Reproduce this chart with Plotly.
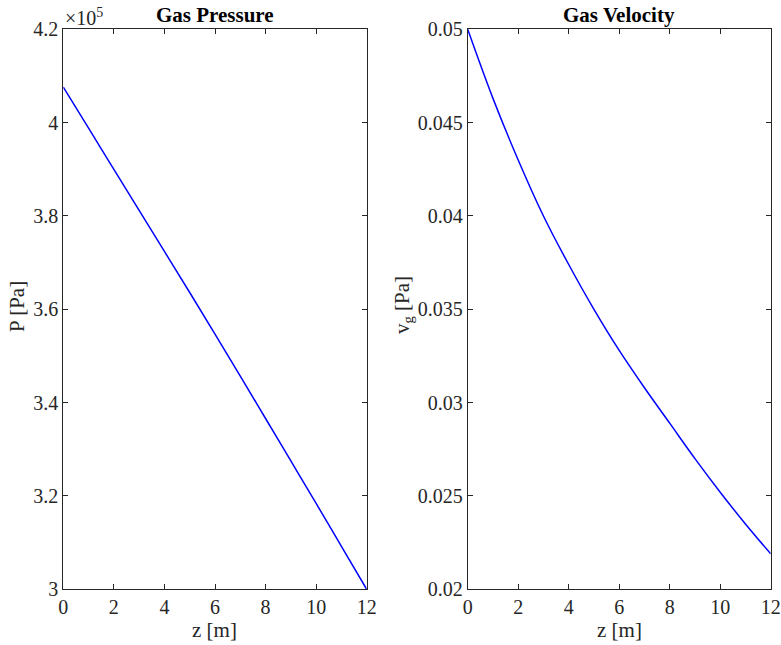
import plotly.graph_objects as go

# ---- data ----
z = [0, 1, 2, 3, 4, 5, 6, 7, 8, 9, 10, 11, 12]
pressure_pa = [407600, 398800, 390000, 381200, 372400, 363600, 354700,
               345700, 336600, 327500, 318400, 309200, 300000]
velocity = [0.0500, 0.0463, 0.0430, 0.0400, 0.0374, 0.0350, 0.0328,
            0.0308, 0.0289, 0.0270, 0.0252, 0.0235, 0.0219]

x_ticks = [0, 2, 4, 6, 8, 10, 12]
p_tickvals = [300000, 320000, 340000, 360000, 380000, 400000, 420000]
p_ticktext = ["3", "3.2", "3.4", "3.6", "3.8", "4", "4.2"]
v_tickvals = [0.02, 0.025, 0.03, 0.035, 0.04, 0.045, 0.05]
v_ticktext = ["0.02", "0.025", "0.03", "0.035", "0.04", "0.045", "0.05"]

W, H = 781, 645
FONT = "Liberation Serif"
AX = "#262626"

fig = go.Figure()
fig.add_trace(go.Scatter(x=z, y=pressure_pa, mode="lines",
                         line=dict(color="#0000ff", width=1.5, shape="spline"),
                         xaxis="x", yaxis="y", showlegend=False))
fig.add_trace(go.Scatter(x=z, y=velocity, mode="lines",
                         line=dict(color="#0000ff", width=1.5, shape="spline"),
                         xaxis="x2", yaxis="y2", showlegend=False))

L1, R1 = 63.3, 366.7
L2, R2 = 467.7, 770.7
TOP, BOT = 29.3, 589.3
ydom = [1 - BOT / H, 1 - TOP / H]

common = dict(showline=True, mirror="ticks", linecolor=AX, linewidth=1,
              ticks="inside", ticklen=5, tickwidth=1, tickcolor=AX,
              showgrid=False, zeroline=False, automargin=False,
              tickfont=dict(family=FONT, size=20, color=AX))

fig.update_layout(
    width=W, height=H,
    margin=dict(l=0, r=0, t=0, b=0),
    paper_bgcolor="white", plot_bgcolor="white",
    font=dict(family=FONT, size=20, color=AX),
    xaxis=dict(domain=[L1 / W, R1 / W], range=[0, 12], tickvals=x_ticks,
               anchor="y", **common),
    yaxis=dict(domain=ydom, range=[300000, 420000], tickvals=p_tickvals,
               ticktext=p_ticktext, anchor="x", **common),
    xaxis2=dict(domain=[L2 / W, R2 / W], range=[0, 12], tickvals=x_ticks,
                anchor="y2", **common),
    yaxis2=dict(domain=ydom, range=[0.02, 0.05], tickvals=v_tickvals,
                ticktext=v_ticktext, anchor="x2", **common),
)

ann = []
# titles
ann.append(dict(text="<b>Gas Pressure</b>", x=(L1 + R1) / 2 / W, y=1 - 15 / H,
                xref="paper", yref="paper", showarrow=False,
                font=dict(family=FONT, size=21, color="black"),
                xanchor="center", yanchor="middle"))
ann.append(dict(text="<b>Gas Velocity</b>", x=(L2 + R2) / 2 / W, y=1 - 15 / H,
                xref="paper", yref="paper", showarrow=False,
                font=dict(family=FONT, size=21, color="black"),
                xanchor="center", yanchor="middle"))
# x labels
for cx in [(L1 + R1) / 2, (L2 + R2) / 2]:
    ann.append(dict(text="z [m]", x=cx / W, y=1 - 630 / H, xref="paper",
                    yref="paper", showarrow=False,
                    font=dict(family=FONT, size=21, color=AX),
                    xanchor="center", yanchor="middle"))
# y labels
ann.append(dict(text="P [Pa]", x=17 / W, y=1 - 307 / H, xref="paper",
                yref="paper", showarrow=False, textangle=-90,
                font=dict(family=FONT, size=21, color=AX),
                xanchor="center", yanchor="middle"))
ann.append(dict(text="v<sub>g</sub> [Pa]", x=403 / W, y=1 - 305 / H,
                xref="paper", yref="paper", showarrow=False, textangle=-90,
                font=dict(family=FONT, size=21, color=AX),
                xanchor="center", yanchor="middle"))
# exponent
ann.append(dict(text="×10<sup>5</sup>", x=63 / W, y=1 - 17 / H, xref="paper",
                yref="paper", showarrow=False,
                font=dict(family=FONT, size=20, color=AX),
                xanchor="left", yanchor="middle"))
fig.update_layout(annotations=ann)

fig.write_html("out.html")
